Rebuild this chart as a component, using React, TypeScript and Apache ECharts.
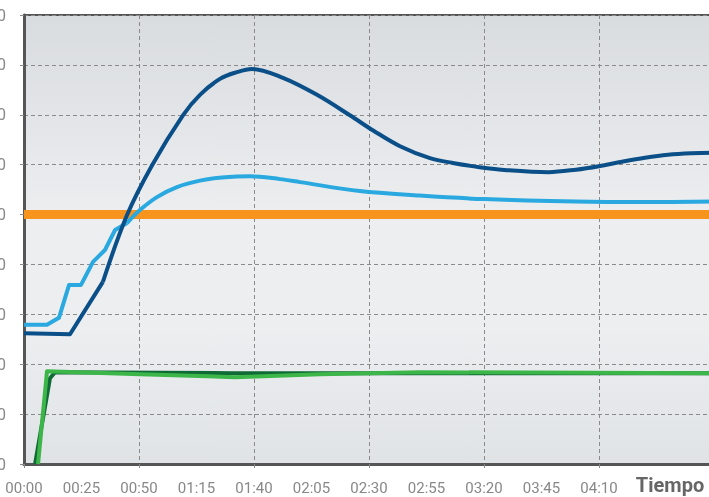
import React, { useEffect, useRef } from "react";
import * as echarts from "echarts";

// shift the chart left so the y tick labels are cut by the page edge, as in the reference
const OFFSET = 40;
const CHART_W = 759;
const CHART_H = 497;

const xMin = 0;
const xMax = 300;
const xLabelStep = 25;
const xGridStep = 50;
const xLastLabel = 250;
const yMin = 0;
const yMax = 90;
const yStep = 10;

const setpoint: [number, number][] = [
  [0, 50],
  [300, 50],
];

const darkBlueStart: [number, number][] = [
  [0, 26.2],
  [20, 26.0],
  [34.3, 36.5],
];
const darkBlueCurve: [number, number][] = [
  [34.3, 36.5],
  [44.8, 49.9],
  [55.7, 59.9],
  [69.1, 69.9],
  [76.5, 74.0],
  [85.2, 77.2],
  [92.2, 78.5],
  [99.1, 79.2],
  [112.6, 77.4],
  [127.4, 74.0],
  [141.7, 69.9],
  [152, 66.8],
  [163.5, 63.7],
  [176.5, 61.3],
  [187, 60.3],
  [198, 59.5],
  [210, 58.9],
  [228, 58.5],
  [240, 59.0],
  [250, 59.7],
  [260, 60.6],
  [270, 61.4],
  [280, 62.0],
  [290, 62.3],
  [300, 62.4],
];

const lightBlueStart: [number, number][] = [
  [0, 27.9],
  [10, 27.9],
  [15.2, 29.3],
  [19.6, 35.9],
  [24.8, 35.9],
  [30, 40.5],
  [35.2, 42.9],
  [39.6, 46.9],
  [44.8, 48.3],
];
const lightBlueCurve: [number, number][] = [
  [44.8, 48.3],
  [50.4, 50.9],
  [57.8, 53.5],
  [66.5, 55.5],
  [76.5, 56.8],
  [87.4, 57.5],
  [98.3, 57.7],
  [111.3, 57.1],
  [120, 56.5],
  [146, 54.7],
  [172, 53.8],
  [200, 53.1],
  [240, 52.6],
  [270, 52.5],
  [300, 52.6],
];

const darkGreen: [number, number][] = [
  [4.8, 0],
  [11.3, 17.2],
  [13.5, 18.4],
  [90, 18.2],
  [300, 18.2],
];

const lightGreen: [number, number][] = [
  [6.1, 0],
  [10, 18.6],
  [50.4, 18.0],
  [91.7, 17.4],
  [128.7, 18.0],
  [172, 18.4],
  [300, 18.2],
];

const xTitle = "Tiempo";

function fmtTime(v: number): string {
  if (v > xLastLabel) return "";
  const m = Math.floor(v / 60);
  const s = Math.round(v - m * 60);
  return String(m).padStart(2, "0") + ":" + String(s).padStart(2, "0");
}

const DARK_BLUE = "#0b4f88";
const LIGHT_BLUE = "#2aa9e0";
const ORANGE = "#f7941d";
const LIGHT_GREEN = "#3db649";
const DARK_GREEN = "#0f6a36";

function line(data: [number, number][], color: string, width: number, smooth: boolean | number, z: number) {
  return {
    type: "line",
    data,
    symbol: "none",
    showSymbol: false,
    smooth,
    lineStyle: { color, width, cap: "butt", join: "round" },
    itemStyle: { color },
    z,
    silent: true,
    xAxisIndex: 0,
    yAxisIndex: 0,
  };
}

export default function App() {
  const ref = useRef<HTMLDivElement>(null);
  useEffect(() => {
    document.body.style.overflow = "hidden";
    if (!ref.current) return;
    const chart = echarts.init(ref.current, undefined, { renderer: "svg" });
    const gridLine = { color: "#8a8a8a", width: 1, type: [4, 3] as any };
    chart.setOption({
      animation: false,
      textStyle: { fontFamily: "Roboto" },
      grid: {
        left: 64,
        right: 5,
        top: 15,
        bottom: 33,
        show: true,
        borderColor: "#555",
        borderWidth: 2,
        backgroundColor: new echarts.graphic.LinearGradient(0, 0, 0, 1, [
          { offset: 0, color: "#d9dcdf" },
          { offset: 0.45, color: "#eceef0" },
          { offset: 0.7, color: "#eceef0" },
          { offset: 1, color: "#e0e3e6" },
        ]),
      },
      xAxis: [
        {
          type: "value",
          min: xMin,
          max: xMax,
          interval: xLabelStep,
          axisLine: { show: true, lineStyle: { color: "#555", width: 3 } },
          axisTick: { show: false },
          splitLine: { show: false },
          axisLabel: {
            formatter: fmtTime,
            color: "#888",
            fontSize: 15,
            margin: 16,
            fontFamily: "Roboto",
          },
        },
        {
          type: "value",
          min: xMin,
          max: xMax,
          interval: xGridStep,
          position: "bottom",
          axisLine: { show: false },
          axisTick: { show: true, length: 4, lineStyle: { color: "#8a8a8a", width: 1 } },
          axisLabel: { show: false },
          splitLine: { show: true, lineStyle: gridLine },
        },
      ],
      yAxis: {
        type: "value",
        min: yMin,
        max: yMax,
        interval: yStep,
        axisLine: { show: true, lineStyle: { color: "#555", width: 3 } },
        axisTick: { show: true, length: 4, lineStyle: { color: "#8a8a8a", width: 1 } },
        splitLine: { show: true, lineStyle: gridLine },
        axisLabel: { color: "#888", fontSize: 16, margin: 18, fontFamily: "Roboto" },
      },
      graphic: [
        {
          type: "text",
          x: 670 + OFFSET,
          y: 485,
          style: {
            text: xTitle,
            fill: "#666",
            font: "bold 20px Roboto",
            lineHeight: 20,
            textAlign: "center",
            textVerticalAlign: "middle",
          },
        },
      ],
      series: [
        line(setpoint, ORANGE, 9, false, 2),
        line(darkGreen, DARK_GREEN, 4, false, 3),
        line(lightGreen, LIGHT_GREEN, 4, false, 4),
        line(lightBlueStart, LIGHT_BLUE, 4, false, 5),
        line(lightBlueCurve, LIGHT_BLUE, 4, 0.35, 5),
        line(darkBlueStart, DARK_BLUE, 4, false, 6),
        line(darkBlueCurve, DARK_BLUE, 4, 0.35, 6),
      ],
    });
    return () => chart.dispose();
  }, []);
  return (
    <div
      ref={ref}
      style={{ position: "fixed", left: -OFFSET, top: 0, width: CHART_W, height: CHART_H }}
    />
  );
}
